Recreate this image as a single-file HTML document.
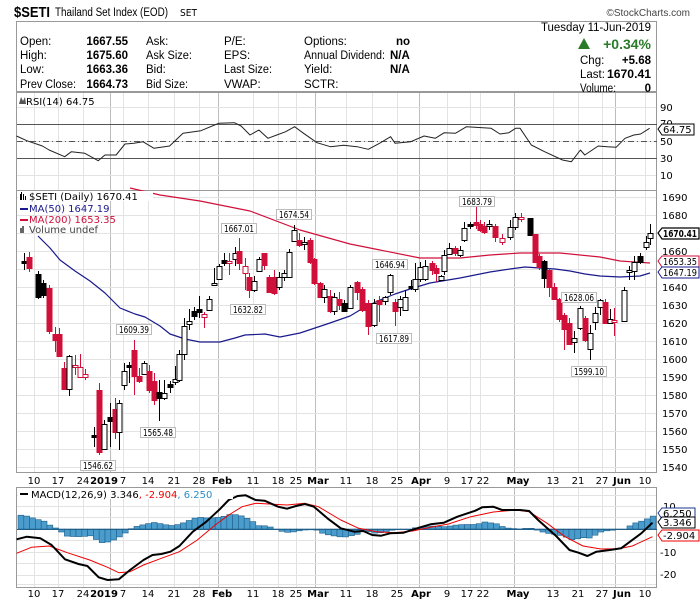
<!DOCTYPE html>
<html><head><meta charset="utf-8"><style>
html,body{margin:0;padding:0;background:#fff;}
svg{display:block;font-family:"Liberation Sans",sans-serif;}
.m{font-family:"DejaVu Sans","Liberation Sans",sans-serif;font-size:10px;}
</style></head><body>
<svg id="s" width="700" height="603" viewBox="0 0 700 603" xmlns="http://www.w3.org/2000/svg">
<rect width="700" height="603" fill="#fff"/>
<g id="grid"></g>
<!-- header -->
<text x="14" y="17" font-size="15" font-weight="bold" textLength="36" lengthAdjust="spacingAndGlyphs">$SETI</text>
<text x="55" y="16" font-size="11.5" textLength="113" lengthAdjust="spacingAndGlyphs">Thailand Set Index (EOD)</text>
<text x="180" y="16" font-size="9" class="m" textLength="17" lengthAdjust="spacingAndGlyphs">SET</text>
<text x="690" y="16" font-size="10" text-anchor="end" fill="#444">©StockCharts.com</text>
<rect x="16.5" y="21.5" width="640" height="70" fill="none" stroke="#999"/>
<g font-size="11.5">
<text x="20" y="45">Open:</text><text x="20" y="59">High:</text><text x="20" y="73">Low:</text><text x="20" y="88" textLength="56" lengthAdjust="spacingAndGlyphs">Prev Close:</text>
<g font-weight="bold" text-anchor="end"><text x="128" y="45">1667.55</text><text x="128" y="59">1675.60</text><text x="128" y="73">1663.36</text><text x="128" y="88">1664.73</text></g>
<text x="146" y="45">Ask:</text><text x="146" y="59" textLength="46" lengthAdjust="spacingAndGlyphs">Ask Size:</text><text x="146" y="73">Bid:</text><text x="146" y="88" textLength="42" lengthAdjust="spacingAndGlyphs">Bid Size:</text>
<text x="224" y="45">P/E:</text><text x="224" y="59">EPS:</text><text x="224" y="73" textLength="48" lengthAdjust="spacingAndGlyphs">Last Size:</text><text x="224" y="88">VWAP:</text>
<text x="304" y="45">Options:</text><text x="304" y="59" textLength="81" lengthAdjust="spacingAndGlyphs">Annual Dividend:</text><text x="304" y="73">Yield:</text><text x="304" y="88">SCTR:</text>
<g font-weight="bold"><text x="396" y="45">no</text><text x="390" y="59">N/A</text><text x="390" y="73">N/A</text></g>
<text x="651" y="31" text-anchor="end" textLength="110" lengthAdjust="spacingAndGlyphs">Tuesday  11-Jun-2019</text>
<path d="M578 49 L584 38 L590 49 Z" fill="#2a7a2a"/>
<text x="651" y="49" text-anchor="end" font-size="14" font-weight="bold" fill="#2a7a2a">+0.34%</text>
<text x="580" y="64">Chg:</text><text x="651" y="64" text-anchor="end" font-weight="bold">+5.68</text>
<text x="580" y="78">Last:</text><text x="651" y="78" text-anchor="end" font-weight="bold" font-size="12" textLength="44" lengthAdjust="spacingAndGlyphs">1670.41</text>
<text x="580" y="92" textLength="36" lengthAdjust="spacingAndGlyphs">Volume:</text><text x="651" y="92" text-anchor="end" font-weight="bold">0</text>
</g>
<!-- panels borders -->
<rect x="16.5" y="92.5" width="640" height="98" fill="none" stroke="#999"/>
<rect x="16.5" y="190.5" width="640" height="282" fill="none" stroke="#999"/>
<rect x="16.5" y="487.5" width="640" height="100" fill="none" stroke="#999"/>
<!-- RSI -->
<line x1="17" x2="657" y1="124.5" y2="124.5" stroke="#555"/>
<line x1="17" x2="657" y1="158.5" y2="158.5" stroke="#555"/>
<line x1="17" x2="657" y1="141.5" y2="141.5" stroke="#555" stroke-dasharray="6,3,1,3"/>
<g id="rsi"></g>
<text x="26" y="105" class="m">RSI(14) 64.75</text>
<path d="M19 104 l2-7 l2 4 l2-4 l1 7z" fill="#555"/>
<g class="m" font-size="10">
<text x="660" y="111">90</text><text x="660" y="127">70</text><text x="660" y="145">50</text><text x="660" y="162">30</text><text x="660" y="179">10</text>
</g>
<path d="M658 129 l4-5 h32 v11 h-32z" fill="#fff" stroke="#000"/>
<text x="663" y="133" class="m" font-size="9.5">64.75</text>
<!-- main -->
<g id="ma"></g>
<g id="cdl"></g>
<g id="lbls"></g>
<g class="m">
<rect x="18" y="191" width="135" height="10" fill="#fff"/>
<path d="M20 200 v-6 h1 v-2 h1 v8 h1 v-6 h1 v6 h1 v-4 h1 v4z" fill="#000"/>
<text x="29" y="200">$SETI (Daily) 1670.41</text>
<line x1="20" x2="28" y1="209" y2="209" stroke="#1a1a8c" stroke-width="2"/>
<text x="29" y="212" fill="#1a1a8c">MA(50) 1647.19</text>
<line x1="20" x2="28" y1="220" y2="220" stroke="#d0103a" stroke-width="2"/>
<text x="29" y="223" fill="#d0103a">MA(200) 1653.35</text>
<path d="M20 233 v-5 h2 v-2 h2 v7z" fill="#666"/>
<text x="29" y="233" fill="#444">Volume undef</text>
</g>
<g class="m" id="py"></g>
<path d="M658 233 l4-5 h37 v11 h-37z" fill="#fff" stroke="#000" stroke-width="1.2"/>
<text x="663" y="237" class="m" font-weight="bold" font-size="9.5" textLength="34" lengthAdjust="spacingAndGlyphs">1670.41</text>
<path d="M658 261 l4-5 h37 v11 h-37z" fill="#fff" stroke="#d0103a"/>
<text x="663" y="265" class="m" font-size="9.5" textLength="34" lengthAdjust="spacingAndGlyphs">1653.35</text>
<path d="M658 272 l4-5 h37 v11 h-37z" fill="#fff" stroke="#1a1a8c"/>
<text x="663" y="276" class="m" font-size="9.5" textLength="34" lengthAdjust="spacingAndGlyphs">1647.19</text>
<!-- x labels -->
<g class="m" font-size="10.5">
<text x="34" y="484" text-anchor="middle">10</text><text x="58" y="484" text-anchor="middle">17</text><text x="83" y="484" text-anchor="middle">24</text><text x="104" y="484" text-anchor="middle" font-weight="bold">2019</text><text x="123" y="484" text-anchor="middle">7</text><text x="148" y="484" text-anchor="middle">14</text><text x="174" y="484" text-anchor="middle">21</text><text x="199" y="484" text-anchor="middle">28</text><text x="222" y="484" text-anchor="middle" font-weight="bold">Feb</text><text x="253" y="484" text-anchor="middle">11</text><text x="278" y="484" text-anchor="middle">18</text><text x="296" y="484" text-anchor="middle">25</text><text x="318" y="484" text-anchor="middle" font-weight="bold">Mar</text><text x="346" y="484" text-anchor="middle">11</text><text x="372" y="484" text-anchor="middle">18</text><text x="397" y="484" text-anchor="middle">25</text><text x="421" y="484" text-anchor="middle" font-weight="bold">Apr</text><text x="447" y="484" text-anchor="middle">9</text><text x="475" y="484" text-anchor="middle">17 22</text><text x="518" y="484" text-anchor="middle" font-weight="bold">May</text><text x="553" y="484" text-anchor="middle">13</text><text x="578" y="484" text-anchor="middle">21</text><text x="602" y="484" text-anchor="middle">27</text><text x="622" y="484" text-anchor="middle" font-weight="bold">Jun</text><text x="645" y="484" text-anchor="middle">10</text>
</g>
<g class="m" font-size="10.5" transform="translate(0,113)">
<text x="34" y="484" text-anchor="middle">10</text><text x="58" y="484" text-anchor="middle">17</text><text x="83" y="484" text-anchor="middle">24</text><text x="104" y="484" text-anchor="middle" font-weight="bold">2019</text><text x="123" y="484" text-anchor="middle">7</text><text x="148" y="484" text-anchor="middle">14</text><text x="174" y="484" text-anchor="middle">21</text><text x="199" y="484" text-anchor="middle">28</text><text x="222" y="484" text-anchor="middle" font-weight="bold">Feb</text><text x="253" y="484" text-anchor="middle">11</text><text x="278" y="484" text-anchor="middle">18</text><text x="296" y="484" text-anchor="middle">25</text><text x="318" y="484" text-anchor="middle" font-weight="bold">Mar</text><text x="346" y="484" text-anchor="middle">11</text><text x="372" y="484" text-anchor="middle">18</text><text x="397" y="484" text-anchor="middle">25</text><text x="421" y="484" text-anchor="middle" font-weight="bold">Apr</text><text x="447" y="484" text-anchor="middle">9</text><text x="475" y="484" text-anchor="middle">17 22</text><text x="518" y="484" text-anchor="middle" font-weight="bold">May</text><text x="553" y="484" text-anchor="middle">13</text><text x="578" y="484" text-anchor="middle">21</text><text x="602" y="484" text-anchor="middle">27</text><text x="622" y="484" text-anchor="middle" font-weight="bold">Jun</text><text x="645" y="484" text-anchor="middle">10</text>
</g>
<!-- MACD -->
<g id="macd"></g>
<line x1="17" x2="657" y1="529.5" y2="529.5" stroke="#1f5f8a"/>
<g id="macd2"></g>
<rect x="18" y="488" width="215" height="11" fill="#fff"/>
<line x1="20" x2="28" y1="494" y2="494" stroke="#000" stroke-width="2"/>
<text x="31" y="498" class="m">MACD(12,26,9) 3.346<tspan fill="#e00">, -2.904</tspan><tspan fill="#2a8fc8">, 6.250</tspan></text>
<g class="m"><text x="663" y="510">10</text><text x="660" y="556">-10</text><text x="660" y="578">-20</text></g>
<path d="M658 513 l4-5 h33 v11 h-33z" fill="#fff" stroke="#1a3a8c"/><text x="663" y="517" class="m" font-size="9.5">6.250</text>
<path d="M658 522 l4-5 h33 v11 h-33z" fill="#fff" stroke="#000"/><text x="663" y="526" class="m" font-size="9.5">3.346</text>
<path d="M658 535 l4-5 h37 v11 h-37z" fill="#fff" stroke="#e00"/><text x="663" y="539" class="m" font-size="9.5">-2.904</text>
</svg>
<script>
(function(){
var NS="http://www.w3.org/2000/svg";
function el(p,t,a){var e=document.createElementNS(NS,t);for(var k in a)e.setAttribute(k,a[k]);document.getElementById(p).appendChild(e);return e;}
var light=[34,58,83,123,148,174,199,253,278,296,346,372,397,447,470,480,553,578,602,645];
var dark=[110,218,315,419,514,615];
[[93,190],[191,472],[488,587]].forEach(function(r){
 light.forEach(function(x){el("grid","line",{x1:x+.5,x2:x+.5,y1:r[0],y2:r[1],stroke:"#e3e3e3"});});
 dark.forEach(function(x){el("grid","line",{x1:x+.5,x2:x+.5,y1:r[0],y2:r[1],stroke:"#bdbdbd"});});
});
[107,141,175].forEach(function(y){el("grid","line",{x1:17,x2:657,y1:y+.5,y2:y+.5,stroke:"#e3e3e3"});});
for(var p=1540;p<=1690;p+=10){var y=Math.round(215+(1680-p)*1.8);el("grid","line",{x1:17,x2:657,y1:y+.5,y2:y+.5,stroke:"#e3e3e3"});
 var t=el("py","text",{x:662,y:y+4});t.textContent=p;}
[506,552,575,517,540,563,495,584].forEach(function(y){el("grid","line",{x1:17,x2:657,y1:y+.5,y2:y+.5,stroke:"#e3e3e3"});});
function poly(g,pts,sx,sy,ox,oy,col,w){el(g,"polyline",{points:pts.map(function(q){return (ox+q[0]/sx).toFixed(1)+","+(oy+q[1]/sy).toFixed(1)}).join(" "),fill:"none",stroke:col,"stroke-width":w,"stroke-linejoin":"round"});}
var rsi=[[37,408],[60,422],[95,438],[110,450],[145,470],[160,455],[190,460],[220,482],[235,465],[260,465],[280,432],[300,430],[320,425],[345,445],[380,438],[410,400],[450,392],[490,370],[525,368],[540,378],[560,405],[580,390],[600,415],[620,405],[640,395],[660,380],[680,400],[710,428],[740,440],[770,436],[800,440],[825,448],[850,430],[875,410],[885,430],[920,425],[950,408],[975,415],[995,398],[1020,400],[1045,380],[1100,385],[1120,402],[1140,398],[1155,385],[1165,385],[1190,435],[1220,455],[1260,480],[1280,485],[1300,450],[1310,465],[1340,438],[1360,440],[1380,442],[1400,415],[1420,405],[1435,402],[1455,385]];
poly("rsi",rsi,2.24,3,0,0,"#222",1);
poly("ma",[[130,188],[160,195],[200,201],[250,211],[300,230],[350,244],[380,250],[420,258],[460,258],[490,255],[520,253],[560,253],[600,257],[620,261],[650,263]],1,1,0,0,"#d0103a",1.2);
poly("ma",[[38,236],[50,248],[60,260],[75,271],[90,281],[105,293],[120,308],[135,314],[145,317],[160,326],[170,334],[185,339],[200,342],[220,342],[235,338],[245,335],[265,334],[280,337],[300,333],[315,328],[330,323],[350,316],[365,307],[380,300],[395,294],[410,289],[430,283],[460,278],[490,272],[510,269],[525,267],[540,268],[555,269],[570,271],[585,274],[600,276],[620,277],[640,276],[650,273]],1,1,0,0,"#1a1a8c",1.2);
var C=[[24,261,263,253,270,"b"],[29,257,268,252,272,"r"],[38,274,297,271,299,"b"],[43,283,295,280,298,"b"],[49,288,331,285,334,"r"],[55,334,340,327,352,"r"],[59,334,356,328,357,"r"],[64,368,389,362,390,"r"],[69,356,389,355,396,"h"],[75,365,367,355,375,"o"],[80,367,377,354,378,"o"],[85,374,377,369,380,"o"],[94,435,437,427,447,"b"],[99,390,452,383,455,"r"],[104,424,449,420,450,"h"],[110,417,421,403,447,"b"],[115,409,432,398,439,"r"],[119,403,432,400,450,"h"],[124,371,385,363,390,"h"],[129,365,367,362,383,"b"],[134,350,376,340,395,"r"],[139,376,381,368,383,"r"],[144,363,374,361,375,"h"],[149,371,390,365,393,"r"],[154,381,400,373,405,"r"],[159,392,398,380,421,"b"],[164,393,398,380,400,"h"],[170,384,387,381,393,"b"],[175,379,382,366,385,"h"],[179,354,380,350,382,"h"],[184,326,354,318,360,"h"],[189,321,324,309,330,"h"],[194,311,316,307,320,"b"],[199,309,312,296,318,"b"],[204,314,317,312,328,"o"],[209,299,310,296,311,"h"],[214,283,285,268,286,"h"],[219,266,279,264,280,"h"],[224,260,263,253,266,"b"],[229,261,263,253,275,"o"],[235,253,259,247,266,"h"],[239,251,263,238,270,"r"],[245,266,273,258,290,"o"],[249,277,290,273,298,"r"],[254,281,290,276,292,"h"],[259,259,271,257,272,"h"],[264,253,265,253,270,"r"],[269,277,292,275,293,"r"],[274,277,293,270,295,"r"],[279,277,287,272,290,"h"],[284,273,277,270,281,"h"],[289,252,277,249,278,"h"],[294,230,241,225,242,"h"],[299,240,245,233,247,"r"],[304,242,244,237,250,"h"],[310,240,262,238,264,"r"],[314,259,283,258,285,"r"],[320,283,297,282,298,"r"],[324,289,297,285,303,"h"],[330,296,311,290,313,"r"],[334,297,311,293,315,"h"],[339,299,305,292,310,"r"],[344,303,311,300,312,"b"],[350,287,308,285,309,"h"],[357,282,292,281,300,"r"],[362,289,310,287,312,"r"],[368,303,326,300,335,"r"],[374,303,325,299,327,"h"],[379,300,304,296,322,"r"],[385,297,301,296,305,"h"],[390,275,292,274,295,"h"],[395,302,311,299,326,"r"],[400,299,307,296,316,"h"],[405,297,310,290,311,"h"],[411,286,288,280,290,"b"],[415,279,289,263,292,"h"],[420,267,279,262,282,"h"],[425,266,279,260,281,"h"],[432,263,270,261,275,"r"],[436,268,273,265,282,"r"],[441,276,280,275,281,"h"],[444,255,271,250,275,"h"],[449,248,254,243,255,"h"],[455,248,253,246,256,"r"],[460,250,255,246,257,"h"],[464,228,240,222,242,"h"],[470,224,226,222,229,"b"],[476,222,225,207,229,"r"],[480,224,230,220,232,"r"],[484,226,232,222,234,"r"],[489,224,226,220,230,"h"],[495,226,237,224,242,"r"],[502,238,242,234,245,"o"],[510,227,237,220,240,"h"],[515,217,227,213,230,"h"],[521,217,219,213,222,"o"],[530,218,235,218,235,"b"],[535,234,262,234,263,"r"],[539,256,267,254,270,"r"],[544,261,278,260,288,"b"],[549,270,287,268,297,"r"],[554,287,299,283,300,"r"],[559,299,319,298,322,"r"],[564,315,329,313,350,"r"],[569,323,344,318,345,"r"],[574,338,342,331,353,"h"],[580,308,328,306,330,"h"],[585,318,340,316,342,"r"],[590,333,349,325,360,"h"],[595,313,322,307,330,"h"],[600,300,307,299,315,"h"],[605,302,323,299,324,"r"],[610,319,323,309,324,"h"],[614,320,322,308,336,"o"],[624,290,321,287,322,"h"],[629,270,272,266,280,"h"],[634,262,271,256,280,"h"],[640,256,262,253,264,"b"],[646,242,247,236,250,"h"],[650,233,238,224,245,"h"]];
C.forEach(function(c){var red=(c[5]=="r"||c[5]=="o"),col=red?"#d0103a":"#000";
 el("cdl","line",{x1:c[0]+.5,x2:c[0]+.5,y1:c[3],y2:c[4],stroke:col});
 var fill=(c[5]=="r")?"#d0103a":(c[5]=="b"?"#000":"#fff");
 el("cdl","rect",{x:c[0]-2,y:c[1]+.5,width:5,height:Math.max(1,c[2]-c[1]),fill:fill,stroke:col});});
[[80,460,"1546.62"],[116,324,"1609.39"],[140,427,"1565.48"],[221,223,"1667.01"],[230,304,"1632.82"],[276,209,"1674.54"],[372,259,"1646.94"],[376,333,"1617.89"],[459,196,"1683.79"],[561,292,"1628.06"],[571,366,"1599.10"]].forEach(function(l){
 el("lbls","rect",{x:l[0]+.5,y:l[1]+.5,width:35,height:10,fill:"#fff",stroke:"#bbb"});
 var t=el("lbls","text",{x:l[0]+3,y:l[1]+9,"class":"m","font-size":"9.5",textLength:"30",lengthAdjust:"spacingAndGlyphs"});t.textContent=l[2];});
var blk=[[37,208],[60,200],[90,205],[115,225],[145,268],[175,282],[195,288],[220,322],[240,330],[265,328],[290,300],[320,270],[340,255],[360,252],[380,245],[400,228],[430,185],[460,155],[490,118],[510,90],[530,78],[548,76],[570,90],[590,92],[620,110],[640,116],[660,108],[680,102],[700,110],[730,145],[760,175],[790,185],[810,183],[830,195],[850,197],[870,190],[900,188],[930,175],[960,163],[990,158],[1020,140],[1060,122],[1075,112],[1100,110],[1120,120],[1160,120],[1180,123],[1200,150],[1240,198],[1270,240],[1290,248],[1310,258],[1330,245],[1360,240],[1385,235],[1400,220],[1430,190],[1455,158]];
var rd=[[37,250],[70,232],[110,228],[150,248],[200,270],[240,292],[265,308],[290,305],[320,285],[360,265],[400,245],[440,210],[480,165],[510,135],[540,110],[570,100],[600,102],[640,105],[680,100],[710,110],[760,150],[800,175],[840,185],[880,188],[920,183],[960,172],[1000,162],[1050,140],[1100,126],[1150,120],[1180,125],[1220,160],[1260,200],[1300,228],[1340,237],[1380,236],[1410,228],[1455,200]];
function interp(a,x){if(x<=a[0][0])return a[0][1];for(var i=1;i<a.length;i++){if(a[i][0]>=x){var f=(x-a[i-1][0])/(a[i][0]-a[i-1][0]);return a[i-1][1]+f*(a[i][1]-a[i-1][1]);}}return a[a.length-1][1];}
for(var bx=18;bx<=652;bx+=5.8){var zx=bx*2.23;var hv=interp(blk,zx)-interp(rd,zx);var tp=529+hv/3;
 var yy=Math.min(529,tp),hh=Math.abs(tp-529);el("macd","rect",{x:bx.toFixed(1),y:yy.toFixed(1),width:5.8,height:Math.max(.5,hh).toFixed(1),fill:"#4a9ccc",stroke:"#1f5f8a","stroke-width":.6});}
poly("macd2",rd,2.23,3,0,470,"#e00",1);
poly("macd2",blk,2.23,3,0,470,"#000",2);
})();
</script>
</body></html>
